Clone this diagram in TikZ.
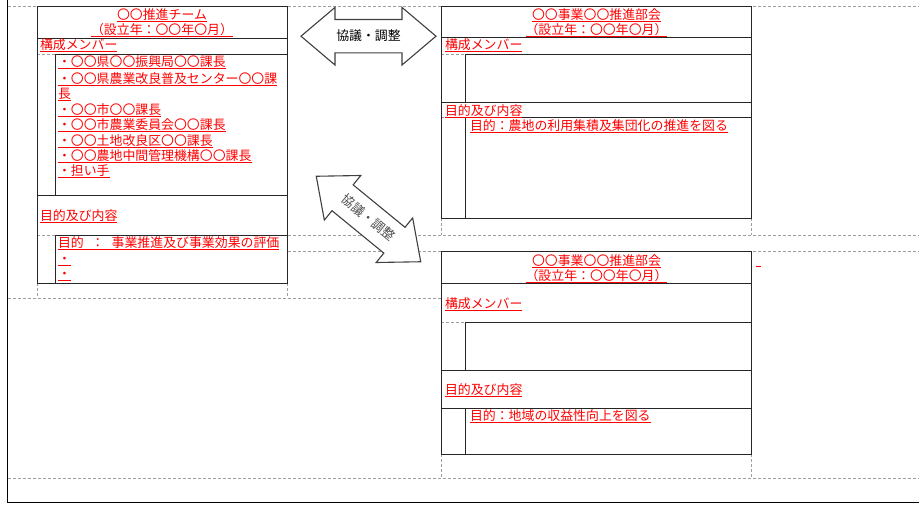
\documentclass[tikz,border=0pt]{standalone}
\usepackage{fontspec}
\newfontfamily\jp{Noto Sans CJK JP}
\tikzset{
  gridline/.style={draw=black!38, line width=0.7pt, dash pattern=on 3pt off 2pt},
  boxline/.style={draw=black!85, line width=0.9pt},
  jpfont/.style={font=\jp\fontsize{12.9}{15}\selectfont, inner sep=0pt, outer sep=0pt, text height=11.35pt, text depth=1.55pt},
  rt/.style={jpfont, text=red, append after command={(\tikzlastnode.south west) edge[draw=red, line width=0.7pt] (\tikzlastnode.south east)}},
  lt/.style={rt, anchor=west},
  ct/.style={rt, anchor=center},
  arrowtxt/.style={jpfont, anchor=center},
  blockarrow/.style={draw=black!75, fill=white, line width=1.1pt, line join=miter},
  dblarrow/.pic={\path[blockarrow] (-67.5,0) -- (-33.5,-28.8) -- (-33.5,-16.7) -- (33.5,-16.7) -- (33.5,-28.8) -- (67.5,0) -- (33.5,28.8) -- (33.5,16.7) -- (-33.5,16.7) -- (-33.5,28.8) -- cycle;}
}
\begin{document}
\begin{tikzpicture}[x=1pt,y=-1pt]
\useasboundingbox (0,0) rectangle (919,504);
% sheet grid lines
\draw[gridline] (8,6) -- (919,6);
\draw[gridline] (288,235) -- (919,235);
\draw[gridline] (288,251) -- (919,251);
\draw[gridline] (8,298) -- (441,298);
\draw[gridline] (8,478) -- (919,478);
\draw[gridline] (37,54) -- (55,54);
\draw[gridline] (37,235) -- (55,235);
\draw[gridline] (37,283) -- (37,298);
\draw[gridline] (287,283) -- (287,298);
\draw[gridline] (441,54) -- (465,54);
\draw[gridline] (441,117) -- (465,117);
\draw[gridline] (441,218) -- (441,235);
\draw[gridline] (751,218) -- (751,235);
\draw[gridline] (441,322) -- (465,322);
\draw[gridline] (441,454) -- (441,478);
\draw[gridline] (751,454) -- (751,478);
% outer sheet border
\draw[boxline, draw=black] (7,0) -- (7,502) -- (919,502);
% left box
\draw[boxline] (37,6) rectangle (287,283);
\draw[boxline] (37,38) -- (287,38);
\draw[boxline] (55,54) -- (287,54);
\draw[boxline] (55,54) -- (55,195);
\draw[boxline] (37,195) -- (287,195);
\draw[boxline] (55,235) -- (287,235);
\draw[boxline] (55,235) -- (55,283);
% upper right box
\draw[boxline] (441,6) rectangle (751,218);
\draw[boxline] (441,37) -- (751,37);
\draw[boxline] (465,54) -- (751,54);
\draw[boxline] (465,54) -- (465,102);
\draw[boxline] (441,102) -- (751,102);
\draw[boxline] (465,117) -- (751,117);
\draw[boxline] (465,117) -- (465,218);
% lower right box
\draw[boxline] (441,251) rectangle (751,454);
\draw[boxline] (441,283) -- (751,283);
\draw[boxline] (465,322) -- (751,322);
\draw[boxline] (465,322) -- (465,370);
\draw[boxline] (441,370) -- (751,370);
\draw[boxline] (441,408) -- (751,408);
\draw[boxline] (465,408) -- (465,454);
% block arrows
\pic at (368.5,36.2) {dblarrow};
\node[arrowtxt] (a1) at (368.5,36) {協議・調整};
\pic[rotate=-39.3] at (368.5,219) {dblarrow};
\node[arrowtxt, rotate=-39.3, text=black!70] (a2) at (369,217.5) {協議・調整};
% left box texts
\node[ct] (lt1) at (162,15) {〇〇推進チーム};
\node[ct] (lt2) at (162,29.5) {（設立年：〇〇年〇月）};
\node[lt] (lm) at (40,45) {構成メンバー};
\node[lt] (m1) at (58,62) {・〇〇県〇〇振興局〇〇課長};
\node[lt] (m2) at (58,78.5) {・〇〇県農業改良普及センター〇〇課};
\node[lt] (m2b) at (58,94) {長};
\node[lt] (m3) at (58,109.5) {・〇〇市〇〇課長};
\node[lt] (m4) at (58,125) {・〇〇市農業委員会〇〇課長};
\node[lt] (m5) at (58,140.5) {・〇〇土地改良区〇〇課長};
\node[lt] (m6) at (58,156) {・〇〇農地中間管理機構〇〇課長};
\node[lt] (m7) at (58,171) {・担い手};
\node[lt] (lp) at (40,216) {目的及び内容};
\node[lt] (lp1) at (58,243) {目的\hspace{7.5pt}：\hspace{7.5pt}事業推進及び事業効果の評価};
\node[lt] (lp2) at (58,258.5) {・};
\node[lt] (lp3) at (58,274) {・};
% upper right texts
\node[ct] (ut1) at (596.5,15) {〇〇事業〇〇推進部会};
\node[ct] (ut2) at (596.5,29.5) {（設立年：〇〇年〇月）};
\node[lt] (um) at (445,45) {構成メンバー};
\node[lt] (up) at (445,110.5) {目的及び内容};
\node[lt] (up1) at (470,126) {目的：農地の利用集積及集団化の推進を図る};
% lower right texts
\node[ct] (bt1) at (596.5,261) {〇〇事業〇〇推進部会};
\node[ct] (bt2) at (596.5,275.5) {（設立年：〇〇年〇月）};
\node[lt] (bm) at (445,303.5) {構成メンバー};
\node[lt] (bp) at (445,390) {目的及び内容};
\node[lt] (bp1) at (470,415.5) {目的：地域の収益性向上を図る};
\coordinate (r1) at (756,266);
\coordinate (r2) at (761,266);
\draw[red, line width=0.8pt] (r1) -- (r2);
\end{tikzpicture}
\end{document}
